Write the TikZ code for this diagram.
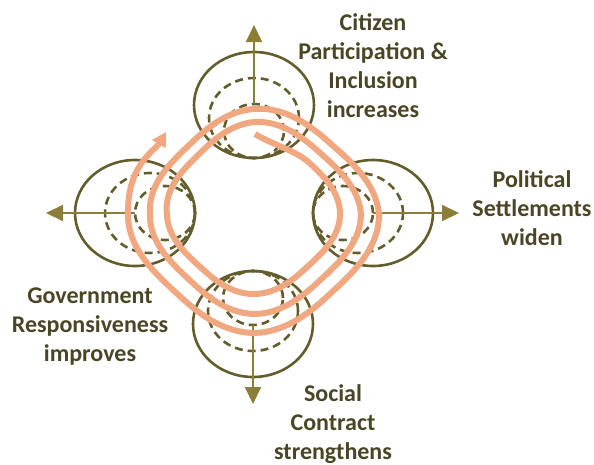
\documentclass[tikz,border=0pt]{standalone}
\usepackage{fontspec}
\setmainfont{Carlito}
\usetikzlibrary{arrows.meta}
\definecolor{olv}{RGB}{99,92,43}
\definecolor{arr}{RGB}{138,126,56}
\definecolor{txt}{RGB}{74,69,36}
\definecolor{orng}{RGB}{241,168,128}
\newcommand\spseg[4]{-- plot[domain=#1:#2, samples=40, variable=\t]({254+1.08*(#3+(#4-(#3))*(\t-(#1))/(#2-(#1)))*sqx(\t)},{214+(#3+(#4-(#3))*(\t-(#1))/(#2-(#1)))*sqy(\t)})}
\tikzset{
  declare function={
    sgp(\c)=\c*pow(abs(\c)+0.0001,-0.2857);
    sqx(\a)=(sgp(cos(\a+45))+sgp(sin(\a+45)))*0.6404;
    sqy(\a)=(sgp(sin(\a+45))-sgp(cos(\a+45)))*0.6404;
  },
  outerc/.style={draw=olv, line width=2.6pt},
  innerc/.style={draw=olv, line width=2.6pt, dash pattern=on 8pt off 5pt},
  axisarrow/.style={draw=arr, line width=2pt, -{Triangle[width=16pt,length=17pt]}},
  spiral/.style={draw=orng, line width=6pt, line join=round},
  lab/.style={text=txt, font=\bfseries\fontsize{24}{28}\selectfont, anchor=base, inner sep=0pt},
}
\begin{document}
\begin{tikzpicture}[x=1pt,y=-1pt]
\useasboundingbox (0,0) rectangle (594,464);
% top group
\coordinate (t-o) at (254,105);
\coordinate (t-m) at (254,118);
\coordinate (t-i) at (254,131);
\draw[outerc] (t-o) ellipse [x radius=60pt, y radius=53pt];
\draw[innerc] (t-m) ellipse [x radius=45pt, y radius=40pt];
\draw[innerc] (t-i) ellipse [x radius=30pt, y radius=27pt];
% bottom group
\coordinate (b-o) at (253,324);
\coordinate (b-m) at (253,311);
\coordinate (b-i) at (253,298);
\draw[outerc] (b-o) ellipse [x radius=60pt, y radius=53pt];
\draw[innerc] (b-m) ellipse [x radius=45pt, y radius=40pt];
\draw[innerc] (b-i) ellipse [x radius=30pt, y radius=27pt];
% left group
\coordinate (l-o) at (135,213);
\coordinate (l-m) at (150,213);
\coordinate (l-i) at (165,213);
\draw[outerc] (l-o) ellipse [x radius=60pt, y radius=53pt];
\draw[innerc] (l-m) ellipse [x radius=45pt, y radius=40pt];
\draw[innerc] (l-i) ellipse [x radius=30pt, y radius=27pt];
% right group
\coordinate (r-o) at (373,213);
\coordinate (r-m) at (358,213);
\coordinate (r-i) at (343,213);
\draw[outerc] (r-o) ellipse [x radius=60pt, y radius=53pt];
\draw[innerc] (r-m) ellipse [x radius=45pt, y radius=40pt];
\draw[innerc] (r-i) ellipse [x radius=30pt, y radius=27pt];
% axis arrows
\coordinate (ta0) at (254,104); \coordinate (ta1) at (254,25);
\coordinate (ba0) at (253,325); \coordinate (ba1) at (253,404);
\coordinate (la0) at (135,213); \coordinate (la1) at (46,213);
\coordinate (ra0) at (373,213); \coordinate (ra1) at (459,213);
\draw[axisarrow] (ta0) -- (ta1);
\draw[axisarrow] (ba0) -- (ba1);
\draw[axisarrow] (la0) -- (la1);
\draw[axisarrow] (ra0) -- (ra1);
% spiral
\coordinate (sp-start) at (255,134);
\coordinate (sp-tip) at (166,132);
\draw[spiral, -{Triangle[width=15pt,length=14pt]}] (sp-start) .. controls (273,145) and (296,150.5) .. (309.3,162.8)
  \spseg{-45}{0}{80}{79.6}
  \spseg{0}{90}{79.6}{80}
  \spseg{90}{180}{80}{80.6}
  \spseg{180}{270}{80.6}{92}
  \spseg{270}{360}{92}{99}
  \spseg{360}{450}{99}{100}
  \spseg{450}{540}{100}{96.3}
  \spseg{540}{630}{96.3}{105}
  \spseg{630}{720}{105}{115.7}
  \spseg{720}{810}{115.7}{119}
  \spseg{810}{900}{119}{116.7}
  .. controls (127,165) and (154.7,150.9) .. (sp-tip);
% labels
\node[lab] (c1) at (373,30) {Citizen};
\node[lab] (c2) at (373,59) {Participation \&};
\node[lab] (c3) at (373,88) {Inclusion};
\node[lab] (c4) at (373,117) {increases};
\node[lab] (p1) at (532,187) {Political};
\node[lab] (p2) at (532,216) {Settlements};
\node[lab] (p3) at (532,245) {widen};
\node[lab] (g1) at (90,303) {Government};
\node[lab] (g2) at (90,332) {Responsiveness};
\node[lab] (g3) at (90,361) {improves};
\node[lab] (s1) at (333,401) {Social};
\node[lab] (s2) at (333,430) {Contract};
\node[lab] (s3) at (333,459) {strengthens};
\end{tikzpicture}
\end{document}
